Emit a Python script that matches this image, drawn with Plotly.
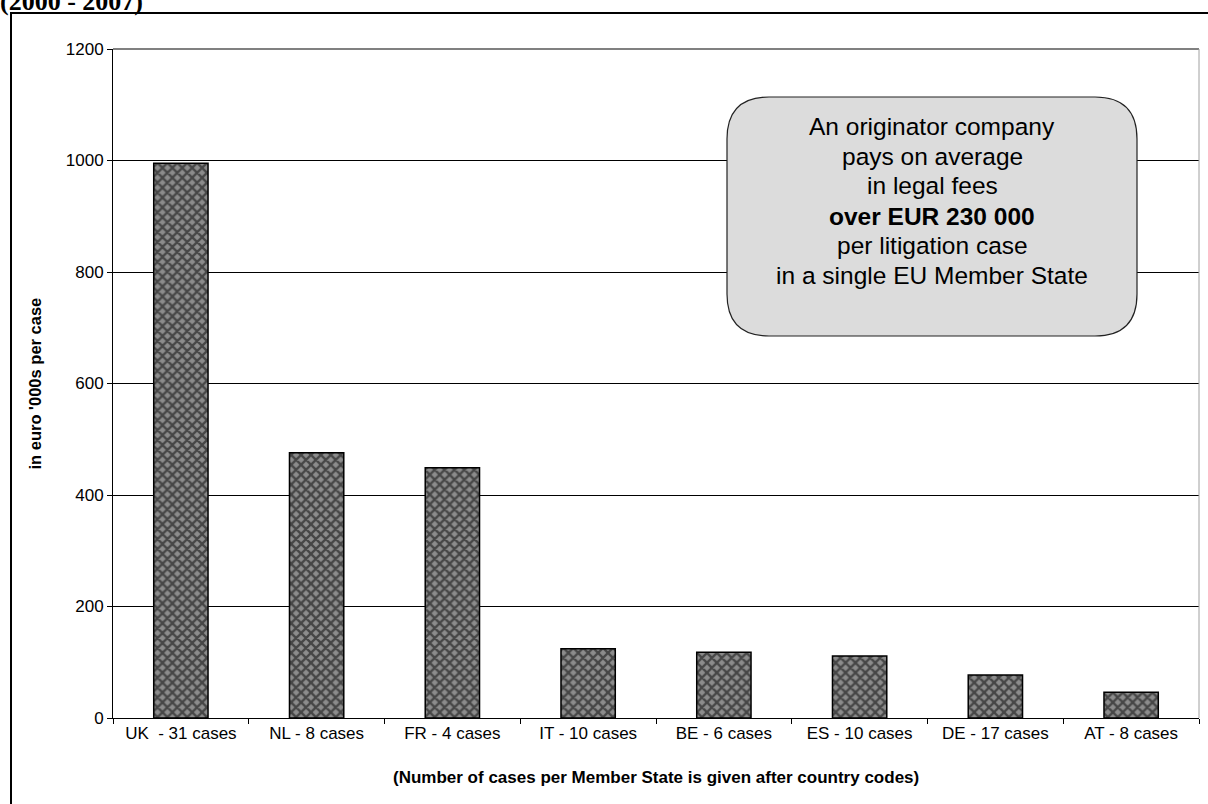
import plotly.graph_objects as go

# Average legal fees per litigation case, by Member State (2000 - 2007)
countries = ["UK  - 31 cases", "NL - 8 cases", "FR - 4 cases", "IT - 10 cases",
             "BE - 6 cases", "ES - 10 cases", "DE - 17 cases", "AT - 8 cases"]
fees_k_eur = [995, 476, 449, 124, 118, 111, 77, 46]
y_ticks = [0, 200, 400, 600, 800, 1000, 1200]

box_lines = ["An originator company", "pays on average", "in legal fees",
             "<b>over EUR 230 000</b>", "per litigation case",
             "in a single EU Member State"]

W, H = 1208, 804
L, R, T, B = 113, 9, 49, 86
PW, PH = W - L - R, H - T - B


def px_x(px):
    return (px - L) / PW


def px_y(py):
    return (H - B - py) / PH


fig = go.Figure()
fig.add_trace(go.Bar(
    x=countries, y=fees_k_eur,
    marker=dict(
        color="#808080",
        line=dict(color="black", width=1.5),
        pattern=dict(shape="x", fgcolor="#000000", bgcolor="#8c8c8c",
                     size=7, solidity=0.55),
    ),
    hoverinfo="x+y",
))

# rounded call-out box
x0, x1 = px_x(727), px_x(1137)
y1, y0 = px_y(97), px_y(336)
rx, ry = 42 / PW, 42 / PH
box_path = (
    f"M {x0 + rx},{y1} L {x1 - rx},{y1} Q {x1},{y1} {x1},{y1 - ry} "
    f"L {x1},{y0 + ry} Q {x1},{y0} {x1 - rx},{y0} "
    f"L {x0 + rx},{y0} Q {x0},{y0} {x0},{y0 + ry} "
    f"L {x0},{y1 - ry} Q {x0},{y1} {x0 + rx},{y1} Z"
)

shapes = [
    # outer frame
    dict(type="rect", xref="paper", yref="paper",
         x0=px_x(11), x1=px_x(1215), y0=px_y(815), y1=px_y(13),
         line=dict(color="black", width=2), fillcolor="rgba(0,0,0,0)", layer="above"),
    # plot area border (top, right)
    dict(type="line", xref="paper", yref="paper", x0=0, x1=1, y0=1, y1=1,
         line=dict(color="#808080", width=2), layer="above"),
    dict(type="line", xref="paper", yref="paper", x0=1, x1=1, y0=0, y1=1,
         line=dict(color="#a0a0a0", width=1), layer="above"),
    dict(type="path", xref="paper", yref="paper", path=box_path,
         line=dict(color="#222222", width=1.2), fillcolor="#dcdcdc", layer="above"),
]

# one annotation per line of the call-out text
line_centers_px = [126, 156, 186, 216, 245, 275]
annotations = [
    dict(text=txt, xref="paper", yref="paper",
         x=px_x(932), y=px_y(cy), xanchor="center", yanchor="middle",
         showarrow=False, align="center",
         font=dict(family="Liberation Sans, Arial", size=24.5, color="black"))
    for txt, cy in zip(box_lines, line_centers_px)
]

annotations += [
    dict(text="<b>(Number of cases per Member State is given after country codes)</b>",
         xref="paper", yref="paper", x=0.5, y=px_y(777),
         xanchor="center", yanchor="middle", showarrow=False,
         font=dict(family="Liberation Sans, Arial", size=17, color="black")),
    dict(text="<b>in euro '000s per case</b>", textangle=-90,
         xref="paper", yref="paper", x=px_x(34), y=0.5,
         xanchor="center", yanchor="middle", showarrow=False,
         font=dict(family="Liberation Sans, Arial", size=16.5, color="black")),
    dict(text="<b>(2000 - 2007)</b>", xref="paper", yref="paper",
         x=px_x(0), y=px_y(18), xanchor="left", yanchor="bottom",
         showarrow=False, xshift=-2,
         font=dict(family="Liberation Serif, Times New Roman", size=26, color="black")),
]

fig.update_layout(
    width=W, height=H,
    margin=dict(l=L, r=R, t=T, b=B, pad=0),
    paper_bgcolor="white", plot_bgcolor="white",
    bargap=0.6, showlegend=False,
    shapes=shapes, annotations=annotations,
    font=dict(family="Liberation Sans, Arial", size=16, color="black"),
)
fig.update_xaxes(
    type="category", tickson="boundaries", ticks="outside", ticklen=5,
    tickcolor="black", showline=True, linecolor="black", linewidth=1,
    showgrid=False, tickfont=dict(size=17),
)
fig.update_yaxes(
    range=[0, 1200], tickvals=y_ticks, ticks="outside", ticklen=5,
    tickcolor="black", showline=True, linecolor="black", linewidth=1,
    showgrid=True, gridcolor="black", gridwidth=1, zeroline=False,
    tickfont=dict(size=17), fixedrange=True,
)

fig.write_html("out.html")
